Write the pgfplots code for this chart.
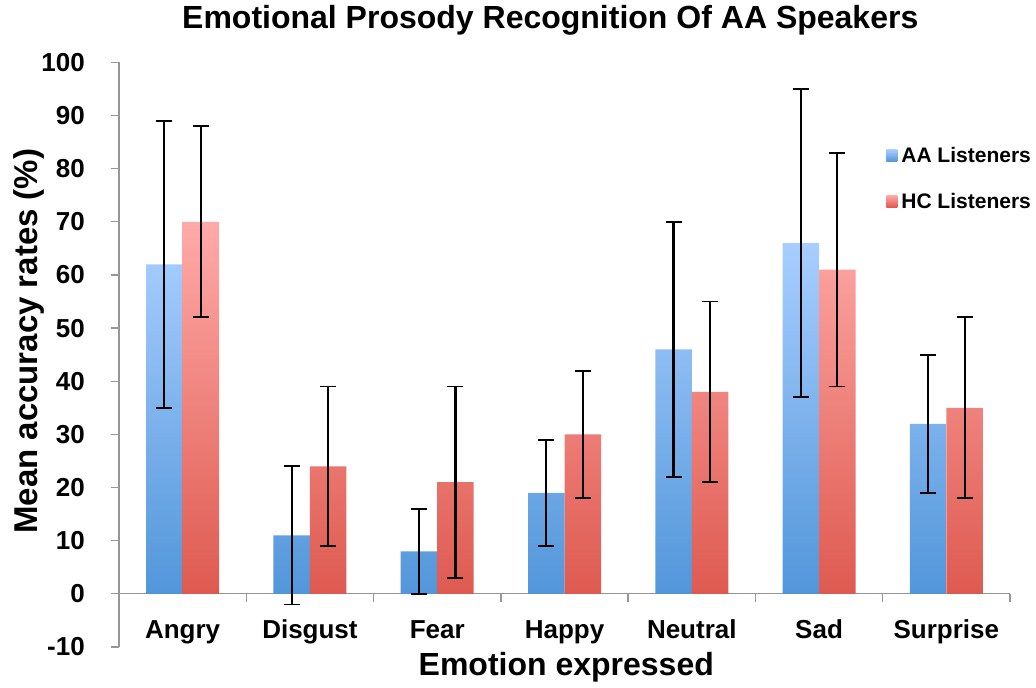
\documentclass[border=0pt]{standalone}
\usepackage{fontspec}
\setmainfont{Liberation Sans}
\usepackage{pgfplots}
\usepackage{pgfplotstable}
\pgfplotsset{compat=1.18}
\definecolor{blueTop}{RGB}{168,206,255}
\definecolor{blueBot}{RGB}{82,150,218}
\definecolor{redTop}{RGB}{255,170,168}
\definecolor{redBot}{RGB}{222,90,80}
\definecolor{axisgray}{RGB}{150,150,150}

\pgfplotstableread{
x aa aaerr hc hcerr
0 62 27 70 18
1 11 13 24 15
2 8 8 21 18
3 19 10 30 12
4 46 24 38 17
5 66 29 61 22
6 32 13 35 17
}\datatable

\begin{document}
\begin{tikzpicture}
\begin{axis}[
  scale only axis, width=891pt, height=584.7pt,
  xmin=-0.5, xmax=6.5, ymin=-10, ymax=100,
  enlargelimits=false,
  axis x line=middle, axis y line=left,
  axis line style={-, draw=axisgray, line width=1.3pt},
  xtick={0,...,6},
  xticklabels={Angry,Disgust,Fear,Happy,Neutral,Sad,Surprise},
  minor xtick={-0.5,0.5,...,6.5},
  ytick={-10,0,...,100},
  tick align=outside,
  major tick length=8pt, minor tick length=8pt,
  major x tick style={draw=none},
  every tick/.style={draw=axisgray, line width=1.3pt},
  minor x tick style={draw=axisgray, line width=1.3pt},
  tick label style={font=\bfseries\fontsize{26}{26}\selectfont, /pgf/number format/assume math mode=true},
  xticklabel style={anchor=base, yshift=-37pt},
  yticklabel style={anchor=east, inner sep=0pt, xshift=-26pt},
  title={Emotional Prosody Recognition Of AA Speakers},
  title style={at={(axis description cs:0.484,1.0467)}, anchor=base, font=\bfseries\fontsize{32}{32}\selectfont},
  xlabel={Emotion expressed},
  xlabel style={at={(axis description cs:0.502,-0.0479)}, anchor=base, font=\bfseries\fontsize{32}{32}\selectfont},
  ylabel={Mean accuracy rates (\%)},
  ylabel style={at={(axis description cs:-0.0917,0.523)}, anchor=base, rotate=0, font=\bfseries\fontsize{33}{33}\selectfont},
  ybar=0pt, bar width=36.5pt,
  legend image code/.code={\path[#1] (0pt,-5.5pt) rectangle (11pt,6.5pt);},
  legend style={at={(axis description cs:0.861,0.858)}, anchor=north west, draw=none, fill=none, inner sep=0pt, row sep=25pt, column sep=2pt, font=\bfseries\fontsize{21}{21}\selectfont},
  legend cell align=left,
  errstyle/.style={forget plot, draw=none, fill=none, line width=2.2pt,
    error bars/.cd, y dir=both, y explicit,
    error bar style={draw=black, line width=2.2pt, solid},
    error mark options={draw=black, line width=1.9pt, mark size=8pt, rotate=90}},
]
\addplot[draw=none, top color=blueTop, bottom color=blueBot, bar shift=-18.25pt]
  table[x=x, y=aa]{\datatable};
\addlegendentry{AA Listeners}
\addplot[bar shift=-18.25pt, errstyle]
  table[x=x, y=aa, y error=aaerr]{\datatable};
\addplot[draw=none, top color=redTop, bottom color=redBot, bar shift=18.25pt]
  table[x=x, y=hc]{\datatable};
\addlegendentry{HC Listeners}
\addplot[bar shift=18.25pt, errstyle]
  table[x=x, y=hc, y error=hcerr]{\datatable};
\coordinate (ll) at (rel axis cs:0,0);
\coordinate (ur) at (rel axis cs:1,1);
\end{axis}
\pgfresetboundingbox
\path[use as bounding box] ([shift={(-119pt,-40pt)}]ll) rectangle ([shift={(26pt,62.3pt)}]ur);
\end{tikzpicture}
\end{document}
